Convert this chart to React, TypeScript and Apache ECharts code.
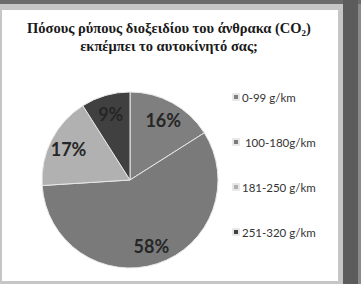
import React, { useEffect, useRef } from "react";
import * as echarts from "echarts";

const categories = ["0-99 g/km", " 100-180g/km", "181-250 g/km", "251-320 g/km"];
const values = [16, 58, 17, 9];
const colors = ["#7f7f7f", "#7a7a7a", "#b1b1b1", "#404040"];
const titleLines = ["Πόσους ρύπους διοξειδίου του άνθρακα (CO{sub|2})", "εκπέμπει το αυτοκίνητό σας;"];

export default function App() {
  const ref = useRef<HTMLDivElement>(null);
  useEffect(() => {
    if (!ref.current) return;
    const chart = echarts.init(ref.current, null, { renderer: "svg" });
    const data = categories.map((name, i) => ({ name, value: values[i], itemStyle: { color: colors[i] } }));
    chart.setOption({
      animation: false,
      backgroundColor: "#c6c6c6",
      graphic: [
        { type: "rect", shape: { x: 0, y: 0, width: 361, height: 4 }, style: { fill: "#6b6b6b" }, z: -10 },
        { type: "rect", shape: { x: 343, y: 0, width: 15, height: 284 }, style: { fill: "#5c5c5c" }, z: -10 },
        { type: "rect", shape: { x: 358, y: 4, width: 3, height: 280 }, style: { fill: "#8a8a8a" }, z: -10 },
        { type: "rect", shape: { x: 2, y: 10, width: 336, height: 271 }, style: { fill: "#ffffff" }, z: -10 },
      ],
      title: {
        text: titleLines.join("\n"),
        left: 169,
        top: 19,
        padding: 0,
        textAlign: "center",
        textStyle: {
          fontFamily: "Liberation Serif",
          fontWeight: "bold",
          fontSize: 14.5,
          color: "#1a1a1a",
          lineHeight: 18,
          rich: {
            sub: { fontFamily: "Liberation Serif", fontWeight: "bold", fontSize: 9, verticalAlign: "bottom", padding: [7, 0, 0, 0], color: "#1a1a1a" },
          },
        },
      },
      legend: {
        orient: "vertical",
        left: 232,
        top: 90,
        padding: 0,
        icon: "rect",
        itemWidth: 6,
        itemHeight: 6,
        itemGap: 31,
        data: categories,
        textStyle: { fontFamily: "Lato", fontSize: 11.5, color: "#333333", lineHeight: 14, padding: [0, 0, 0, -2] },
        selectedMode: false,
      },
      series: [
        {
          type: "pie",
          center: [130, 180],
          radius: [0, 88],
          startAngle: 90,
          clockwise: true,
          silent: true,
          label: { show: false },
          labelLine: { show: false },
          itemStyle: { borderColor: "#e8e8e8", borderWidth: 1 },
          data,
        },
        {
          type: "pie",
          center: [130, 180],
          radius: [0, 132],
          startAngle: 90,
          clockwise: true,
          silent: true,
          avoidLabelOverlap: false,
          itemStyle: { color: "rgba(0,0,0,0)" },
          label: {
            show: true,
            position: "inside",
            formatter: "{c}%",
            fontFamily: "Lato",
            fontWeight: "bold",
            fontSize: 18,
            color: "#262626",
          },
          labelLine: { show: false },
          data: categories.map((name, i) => ({ name, value: values[i], itemStyle: { color: "rgba(0,0,0,0)" } })),
        },
      ],
    });
    return () => chart.dispose();
  }, []);
  return <div ref={ref} style={{ position: "fixed", left: 0, top: 0, width: 361, height: 284 }} />;
}
